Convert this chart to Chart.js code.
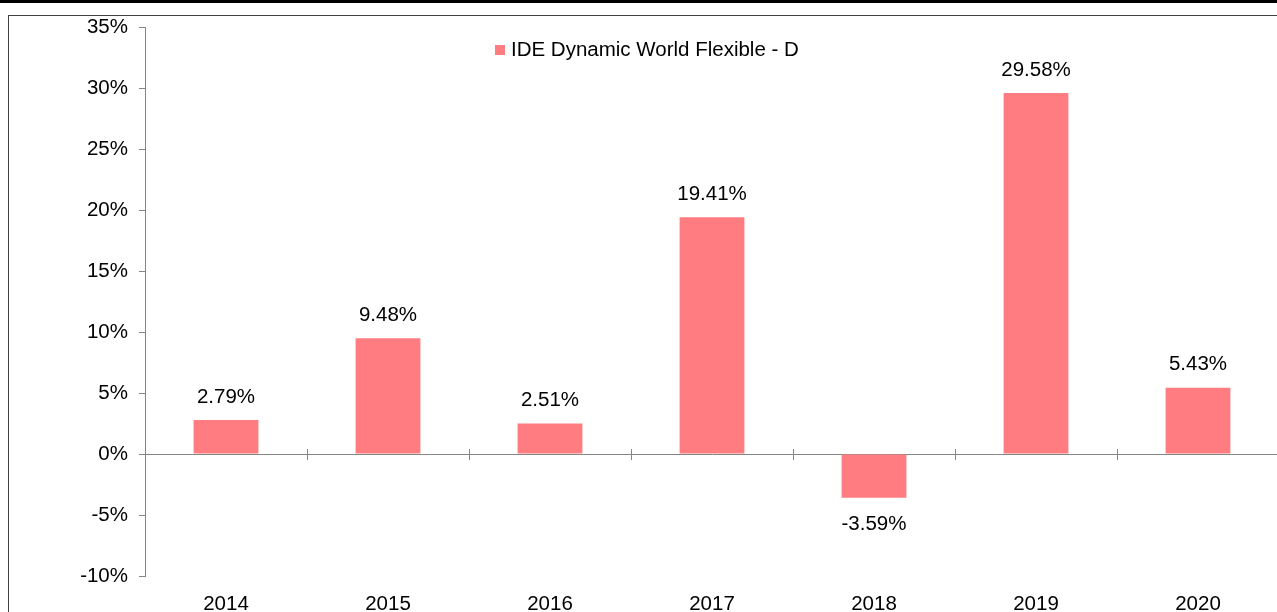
<!DOCTYPE html>
<html>
<head>
<meta charset="utf-8">
<script src="https://cdn.jsdelivr.net/npm/chart.js@4/dist/chart.umd.min.js"></script>
<style>
    html, body { margin: 0; padding: 0; overflow: hidden; background: #fff; width: 1277px; height: 612px; }
    #topbar { position: absolute; left: 0; top: 0; width: 1277px; height: 3px; background: #000; }
    #frame { position: absolute; left: 8px; top: 15px; width: 1300px; height: 620px;
             border-left: 1.5px solid #404040; border-top: 1.5px solid #404040; }
    #wrap { position: absolute; left: 0; top: 0; width: 1279px; height: 630px; }
</style>
</head>
<body>
<div id="topbar"></div>
<div id="frame"></div>
<div id="wrap"><canvas id="barChart"></canvas></div>
<script>
const years = ['2014', '2015', '2016', '2017', '2018', '2019', '2020'];
const returns = [2.79, 9.48, 2.51, 19.41, -3.59, 29.58, 5.43];
const seriesName = 'IDE Dynamic World Flexible - D';
const barColor = '#FF7C80';
const axisColor = '#868686';
const fontFamily = '"Liberation Sans", Arial, sans-serif';
const fontSize = 20.5;

// labels above / below each bar
const valueLabels = {
    id: 'valueLabels',
    afterDatasetsDraw(chart) {
        const ctx = chart.ctx;
        const meta = chart.getDatasetMeta(0);
        ctx.save();
        ctx.font = fontSize + 'px ' + fontFamily;
        ctx.fillStyle = '#000';
        ctx.textAlign = 'center';
        ctx.textBaseline = 'middle';
        meta.data.forEach((bar, i) => {
            const v = returns[i];
            const y = v >= 0 ? bar.y - 23 : bar.y + 27;
            ctx.fillText(v.toFixed(2) + '%', bar.x, y);
        });
        ctx.restore();
    }
};

// zero line ticks between categories
const zeroTicks = {
    id: 'zeroTicks',
    afterDraw(chart) {
        const ctx = chart.ctx;
        const x = chart.scales.x;
        const y0 = chart.scales.y.getPixelForValue(0);
        const half = (x.getPixelForValue(1) - x.getPixelForValue(0)) / 2;
        ctx.save();
        ctx.strokeStyle = axisColor;
        ctx.lineWidth = 1;
        for (let i = 0; i < years.length - 1; i++) {
            const px = Math.round(x.getPixelForValue(i) + half) + 0.5;
            ctx.beginPath();
            ctx.moveTo(px, y0 - 5);
            ctx.lineTo(px, y0 + 6);
            ctx.stroke();
        }
        ctx.restore();
    }
};

// legend drawn inside the plot area
const innerLegend = {
    id: 'innerLegend',
    afterDraw(chart) {
        const ctx = chart.ctx;
        const area = chart.chartArea;
        ctx.save();
        ctx.font = fontSize + 'px ' + fontFamily;
        const boxX = 495;
        const cy = area.top + 23;
        ctx.fillStyle = barColor;
        ctx.fillRect(boxX, cy - 5, 10, 10);
        ctx.fillStyle = '#000';
        ctx.textBaseline = 'middle';
        ctx.fillText(seriesName, boxX + 16, cy);
        ctx.restore();
    }
};

const cfg = {
    type: 'bar',
    data: {
        labels: years,
        datasets: [{
            label: seriesName,
            data: returns,
            backgroundColor: barColor,
            borderWidth: 0,
            categoryPercentage: 1,
            barPercentage: 0.4
        }]
    },
    options: {
        responsive: true,
        maintainAspectRatio: false,
        animation: false,
        layout: { padding: { left: 0, right: 0, top: 27, bottom: 0 } },
        plugins: {
            legend: { display: false },
            tooltip: { enabled: false }
        },
        scales: {
            x: {
                grid: { display: false, drawTicks: false },
                border: { display: false },
                ticks: {
                    color: '#000',
                    padding: 16,
                    font: { family: fontFamily, size: fontSize }
                },
                afterFit(scale) { scale.height = 54; }
            },
            y: {
                min: -10,
                max: 35,
                ticks: {
                    stepSize: 5,
                    color: '#000',
                    padding: 11,
                    font: { family: fontFamily, size: fontSize },
                    callback: v => v + '%'
                },
                grid: {
                    drawOnChartArea: true,
                    color: c => (c.tick && c.tick.value === 0) ? axisColor : 'rgba(0,0,0,0)',
                    tickColor: axisColor,
                    tickLength: 6,
                    lineWidth: 1
                },
                border: { display: true, color: axisColor, width: 1 },
                afterFit(scale) { scale.width = 145; }
            }
        }
    },
    plugins: [valueLabels, zeroTicks, innerLegend]
};

document.addEventListener('DOMContentLoaded', function () {
    new Chart(document.getElementById('barChart'), cfg);
});
</script>
</body>
</html>
